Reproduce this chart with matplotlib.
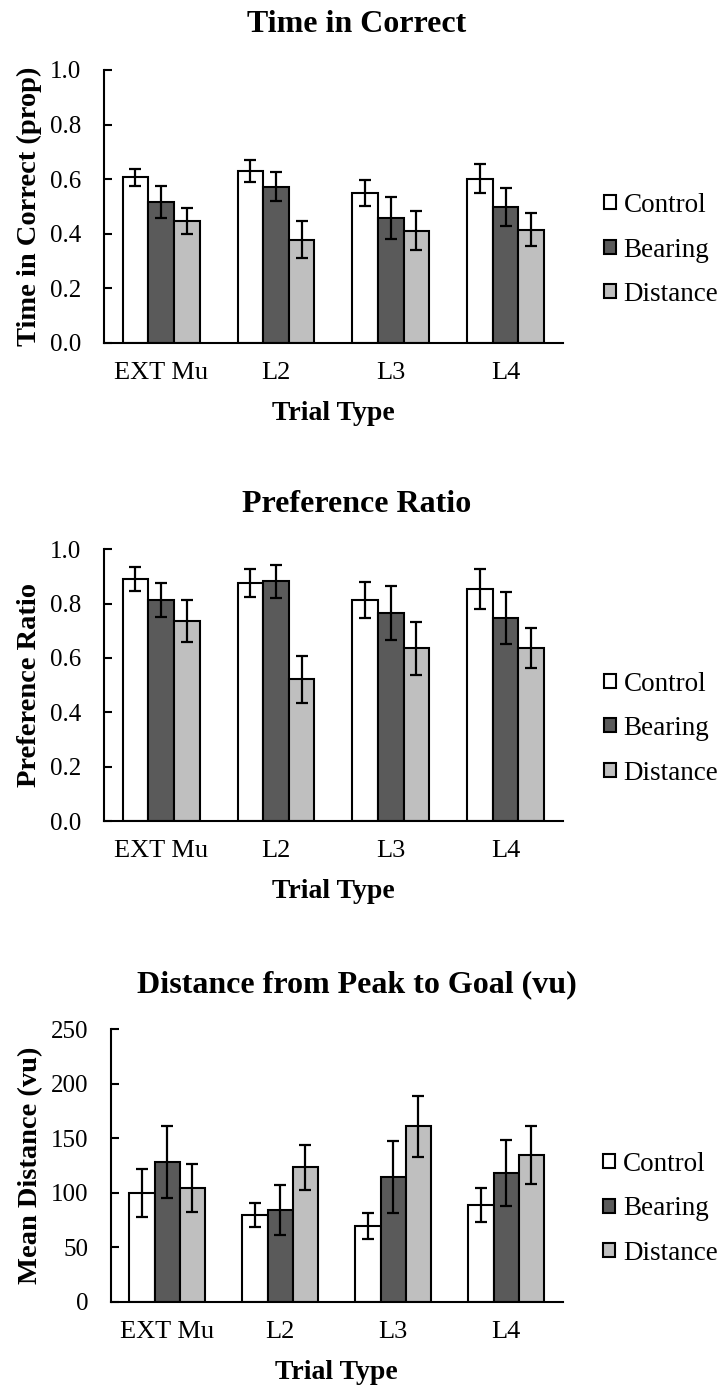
import numpy as np
import matplotlib
matplotlib.use('Agg')
import matplotlib.pyplot as plt

plt.rcParams['font.family'] = ['Liberation Serif', 'DejaVu Serif']

categories = ['EXT Mu', 'L2', 'L3', 'L4']
groups = ['Control', 'Bearing', 'Distance']
colors = ['#ffffff', '#5a5a5a', '#bfbfbf']

# Time in Correct (prop)
time_control = [0.607, 0.630, 0.549, 0.602]
time_bearing = [0.517, 0.573, 0.458, 0.499]
time_distance = [0.446, 0.378, 0.411, 0.415]
time_control_err = [0.031, 0.041, 0.048, 0.053]
time_bearing_err = [0.058, 0.052, 0.078, 0.070]
time_distance_err = [0.048, 0.068, 0.072, 0.061]

# Preference Ratio
pref_control = [0.890, 0.877, 0.813, 0.854]
pref_bearing = [0.813, 0.882, 0.766, 0.747]
pref_distance = [0.735, 0.521, 0.636, 0.638]
pref_control_err = [0.044, 0.051, 0.065, 0.073]
pref_bearing_err = [0.064, 0.060, 0.099, 0.094]
pref_distance_err = [0.077, 0.085, 0.098, 0.074]

# Distance from peak to goal (vu)
dist_control = [99.5, 79.6, 69.5, 88.5]
dist_bearing = [128.0, 84.0, 114.0, 118.0]
dist_distance = [104.5, 123.0, 160.7, 134.0]
dist_control_err = [21.7, 11.0, 12.0, 15.5]
dist_bearing_err = [32.7, 22.6, 33.0, 30.0]
dist_distance_err = [22.0, 20.6, 28.0, 26.6]


def draw_panel(ax, means, errs, ylabel, ymax, ystep, fmt):
    x = np.arange(len(categories))
    width = 0.223
    for i, (m, e) in enumerate(zip(means, errs)):
        ax.bar(x + (i - 1) * width, m, width, color=colors[i], edgecolor='black',
               linewidth=1.5, label=groups[i], zorder=2)
        ax.errorbar(x + (i - 1) * width, m, yerr=e, fmt='none', ecolor='black',
                    elinewidth=1.6, capsize=4.5, capthick=1.6, zorder=3)
    ax.set_xlim(-0.5, len(categories) - 0.5)
    ax.set_ylim(0, ymax)
    ticks = np.arange(0, ymax + ystep / 2, ystep)
    ax.set_yticks(ticks)
    ax.set_yticklabels([fmt.format(v) for v in ticks])
    ax.set_xticks(x)
    ax.set_xticklabels(categories)
    ax.tick_params(axis='y', direction='in', length=6, width=1.5, labelsize=18, pad=16)
    ax.tick_params(axis='x', length=0, labelsize=19, pad=14)
    for s in ['top', 'right']:
        ax.spines[s].set_visible(False)
    for s in ['left', 'bottom']:
        ax.spines[s].set_linewidth(1.5)
    ax.set_xlabel('Trial Type', fontsize=20, fontweight='bold', labelpad=12)
    ax.set_ylabel(ylabel, fontsize=20.5, fontweight='bold', labelpad=6)
    ax.legend(loc='center left', bbox_to_anchor=(1.06, 0.34), frameon=False,
              fontsize=19.5, handlelength=0.42, handleheight=0.42,
              handletextpad=0.3, labelspacing=0.72, borderpad=0)


fig = plt.figure(figsize=(7.19, 13.88), dpi=100)

ax1 = fig.add_axes([0.1442, 0.7529, 0.639, 0.1967])
draw_panel(ax1, [time_control, time_bearing, time_distance],
           [time_control_err, time_bearing_err, time_distance_err],
           'Time in Correct (prop)', 1.0, 0.2, '{:.1f}')

ax2 = fig.add_axes([0.1442, 0.4085, 0.639, 0.1958])
draw_panel(ax2, [pref_control, pref_bearing, pref_distance],
           [pref_control_err, pref_bearing_err, pref_distance_err],
           'Preference Ratio', 1.0, 0.2, '{:.1f}')

ax3 = fig.add_axes([0.154, 0.0623, 0.6287, 0.1963])
draw_panel(ax3, [dist_control, dist_bearing, dist_distance],
           [dist_control_err, dist_bearing_err, dist_distance_err],
           'Mean Distance (vu)', 250, 50, '{:.0f}')

title_kw = dict(ha='center', va='center', fontsize=23, fontweight='bold')
fig.text(357 / 719, 1 - 24 / 1388, 'Time in Correct', **title_kw)
fig.text(357 / 719, 1 - 505 / 1388, 'Preference Ratio', **title_kw)
fig.text(357 / 719, 1 - 985 / 1388, 'Distance from Peak to Goal (vu)', **title_kw)

fig.savefig('out.png', dpi=100)
